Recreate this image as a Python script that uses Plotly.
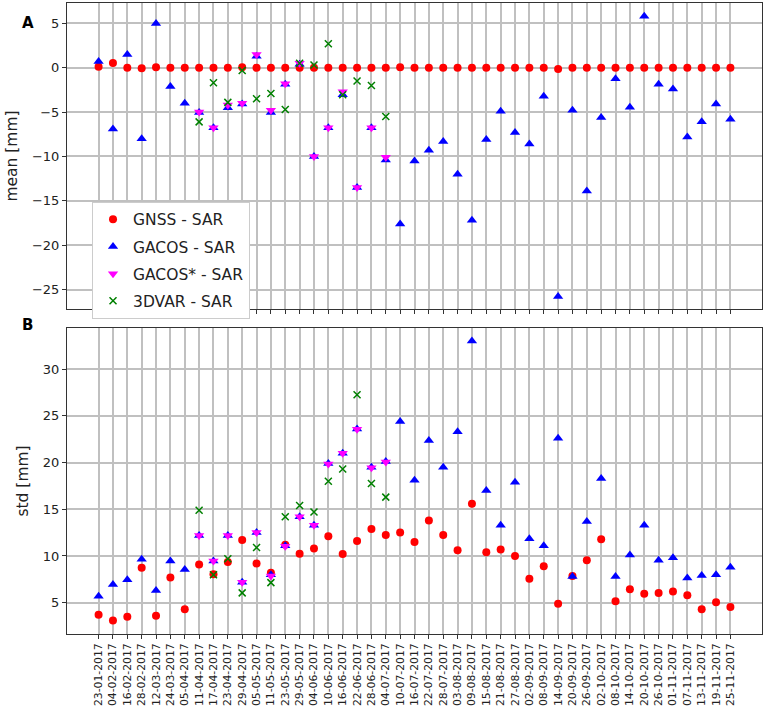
import plotly.graph_objects as go
from plotly.subplots import make_subplots

# acquisition dates (categories)
dates = ["23-01-2017", "04-02-2017", "16-02-2017", "28-02-2017", "12-03-2017",
         "24-03-2017", "05-04-2017", "11-04-2017", "17-04-2017", "23-04-2017",
         "29-04-2017", "05-05-2017", "11-05-2017", "23-05-2017", "29-05-2017",
         "04-06-2017", "10-06-2017", "16-06-2017", "22-06-2017", "28-06-2017",
         "04-07-2017", "10-07-2017", "16-07-2017", "22-07-2017", "28-07-2017",
         "03-08-2017", "09-08-2017", "15-08-2017", "21-08-2017", "27-08-2017",
         "02-09-2017", "08-09-2017", "14-09-2017", "20-09-2017", "26-09-2017",
         "02-10-2017", "08-10-2017", "14-10-2017", "20-10-2017", "26-10-2017",
         "01-11-2017", "07-11-2017", "13-11-2017", "19-11-2017", "25-11-2017"]

# GACOS* and 3DVAR exist only for 11-04-2017 .. 04-07-2017
sub_dates = dates[7:21]

# panel A: mean [mm]
mean_gnss = [0.1, 0.55, 0.0, -0.05, 0.05, 0.0, 0.0, 0.0, 0.0, 0.0,
             0.05, 0.0, 0.0, 0.0, 0.0, 0.0, 0.0, 0.0, 0.0, 0.0,
             0.0, 0.05, 0.0, 0.0, 0.0, 0.0, 0.0, 0.0, 0.0, 0.0,
             0.0, 0.0, -0.15, 0.0, 0.0, 0.0, 0.0, 0.0, 0.0, 0.0,
             0.0, 0.0, 0.0, 0.0, 0.0]
mean_gacos = [0.7, -6.9, 1.5, -8.0, 5.0, -2.1, -4.0, -5.05, -6.75, -4.5,
              -4.1, 1.3, -5.05, -1.85, 0.4, -10.0, -6.75, -3.05, -13.5, -6.75,
              -10.4, -17.6, -10.5, -9.3, -8.3, -12.0, -17.2, -8.1, -4.9, -7.3,
              -8.6, -3.2, -25.8, -4.8, -13.9, -5.6, -1.25, -4.45, 5.8, -1.85,
              -2.4, -7.8, -6.1, -4.1, -5.8]
mean_gacos_star = [-5.0, -6.75, -4.2, -4.0, 1.5, -4.8, -1.8, 0.5, -10.0, -6.75,
                   -2.7, -13.5, -6.75, -10.1]
mean_3dvar = [-6.1, -1.7, -3.9, -0.3, -3.5, -2.9, -4.7, 0.5, 0.3, 2.7,
              -3.05, -1.5, -2.0, -5.5]

# panel B: std [mm]
std_gnss = [3.7, 3.1, 3.5, 8.75, 3.6, 7.7, 4.3, 9.1, 8.05, 9.35,
            11.7, 9.2, 8.2, 11.2, 10.25, 10.8, 12.1, 10.2, 11.6, 12.9,
            12.25, 12.5, 11.5, 13.8, 12.25, 10.6, 15.6, 10.4, 10.7, 10.0,
            7.55, 8.9, 4.9, 7.85, 9.55, 11.8, 5.15, 6.45, 5.95, 6.05,
            6.2, 5.8, 4.3, 5.05, 4.55]
std_gacos = [5.7, 6.95, 7.45, 9.65, 6.3, 9.45, 8.55, 12.2, 9.45, 12.2,
             7.2, 12.5, 8.0, 11.1, 14.2, 13.3, 19.9, 21.0, 23.6, 19.5,
             20.1, 24.4, 18.1, 22.35, 19.5, 23.3, 33.0, 17.0, 13.3, 17.9,
             11.85, 11.1, 22.6, 7.8, 13.7, 18.3, 7.8, 10.1, 13.3, 9.55,
             9.8, 7.65, 7.9, 8.0, 8.8]
std_gacos_star = [12.2, 9.45, 12.2, 7.2, 12.5, 7.85, 11.05, 14.2, 13.3, 19.85,
                  21.0, 23.55, 19.45, 20.05]
std_3dvar = [14.9, 8.0, 9.7, 6.05, 10.9, 7.15, 14.2, 15.4, 14.7, 18.0,
             19.3, 27.25, 17.75, 16.3]

idx = list(range(len(dates)))
sub_idx = [dates.index(d) for d in sub_dates]

fig = make_subplots(rows=2, cols=1, vertical_spacing=0.03)

styles = [
    ("GNSS - SAR", dict(symbol="circle", size=8, color="red")),
    ("GACOS - SAR", dict(symbol="triangle-up", size=9, color="blue")),
    ("GACOS* - SAR", dict(symbol="triangle-down", size=9, color="magenta")),
    ("3DVAR - SAR", dict(symbol="x-thin", size=7, color="green",
                         line=dict(color="green", width=1.5))),
]
panels = [
    (1, [mean_gnss, mean_gacos, mean_gacos_star, mean_3dvar]),
    (2, [std_gnss, std_gacos, std_gacos_star, std_3dvar]),
]
for row, series in panels:
    for k, ((name, mk), vals) in enumerate(zip(styles, series)):
        xs = idx if k < 2 else sub_idx
        fig.add_trace(go.Scatter(x=xs, y=vals, mode="markers", name=name,
                                 marker=mk, legendgroup=name,
                                 showlegend=(row == 1)),
                      row=row, col=1)

axis_common = dict(showline=True, mirror=True, linecolor="#333333", linewidth=1,
                   showgrid=True, gridcolor="#c0c0c0", gridwidth=1.5,
                   zeroline=False, ticks="outside", ticklen=4, tickcolor="#333333")

fig.update_xaxes(range=[-2.2, 46.2], tickmode="array", tickvals=idx, ticktext=dates,
                 **axis_common)
fig.update_xaxes(showticklabels=False, row=1, col=1)
fig.update_xaxes(tickangle=-90, tickfont=dict(size=10.8, color="#222"), row=2, col=1)

fig.update_yaxes(**axis_common)
fig.update_yaxes(range=[-27.2, 7.3], tickvals=[-25, -20, -15, -10, -5, 0, 5],
                 title=dict(text="mean [mm]", font=dict(size=15.5), standoff=10),
                 tickfont=dict(size=13, color="#222"), row=1, col=1)
fig.update_yaxes(range=[1.65, 34.4], tickvals=[5, 10, 15, 20, 25, 30],
                 title=dict(text="std [mm]", font=dict(size=15.5), standoff=10),
                 tickfont=dict(size=13, color="#222"), row=2, col=1)

# plot area in pixels
pw, ph = 765 - 67 - 3, 712 - 3 - 78

fig.update_layout(
    width=765, height=712,
    margin=dict(l=67, r=3, t=3, b=78),
    paper_bgcolor="white", plot_bgcolor="white",
    font=dict(family="DejaVu Sans", color="#222"),
    xaxis=dict(domain=[0, 1]),
    yaxis=dict(domain=[0.515, 1]),
    yaxis2=dict(domain=[0, 0.485]),
    legend=dict(x=0.036, y=0.685, xanchor="left", yanchor="top",
                bgcolor="white", bordercolor="#cccccc", borderwidth=1,
                font=dict(size=15.5), tracegroupgap=4),
    annotations=[
        dict(text="<b>A</b>", x=(20 - 67) / pw, y=(634 - 12) / ph,
             xref="paper", yref="paper", showarrow=False,
             font=dict(size=15, color="black")),
        dict(text="<b>B</b>", x=(20 - 67) / pw, y=(634 - 325) / ph,
             xref="paper", yref="paper", showarrow=False,
             font=dict(size=15, color="black")),
    ],
)

fig.write_html("out.html", config={"displayModeBar": False},
               post_script="document.body.style.margin='0';")
